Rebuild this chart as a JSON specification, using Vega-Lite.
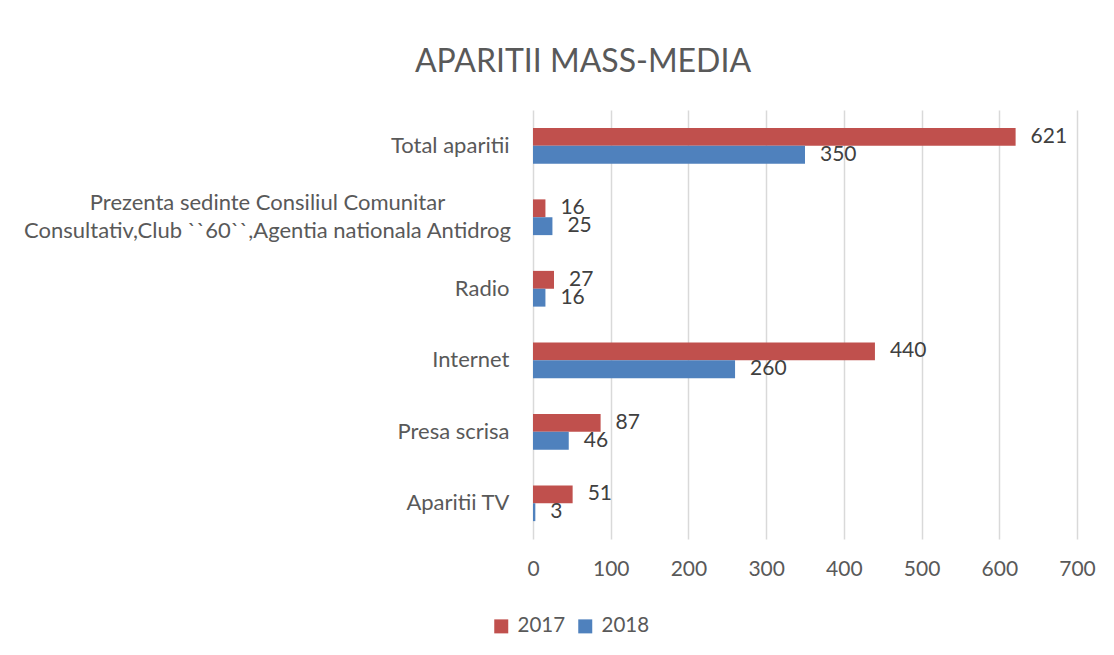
{
  "$schema": "https://vega.github.io/schema/vega-lite/v6.json",
  "autosize": {"type": "none"},
  "width": 544,
  "height": 429,
  "padding": {"left": 533, "top": 110, "right": 37, "bottom": 116},
  "background": "white",
  "config": {
    "font": "Lato",
    "view": {"stroke": null}
  },
  "title": {
    "text": "APARITII MASS-MEDIA",
    "anchor": "middle",
    "frame": "group",
    "dx": -222,
    "offset": 31,
    "fontSize": 32,
    "fontWeight": "normal",
    "color": "#595959"
  },
  "data": {
    "values": [
      {"category": "Total aparitii", "year": "2017", "value": 621},
      {"category": "Total aparitii", "year": "2018", "value": 350},
      {"category": "Prezenta sedinte Consiliul Comunitar Consultativ,Club ``60``,Agentia nationala Antidrog", "year": "2017", "value": 16},
      {"category": "Prezenta sedinte Consiliul Comunitar Consultativ,Club ``60``,Agentia nationala Antidrog", "year": "2018", "value": 25},
      {"category": "Radio", "year": "2017", "value": 27},
      {"category": "Radio", "year": "2018", "value": 16},
      {"category": "Internet", "year": "2017", "value": 440},
      {"category": "Internet", "year": "2018", "value": 260},
      {"category": "Presa scrisa", "year": "2017", "value": 87},
      {"category": "Presa scrisa", "year": "2018", "value": 46},
      {"category": "Aparitii TV", "year": "2017", "value": 51},
      {"category": "Aparitii TV", "year": "2018", "value": 3}
    ]
  },
  "encoding": {
    "y": {
      "field": "category",
      "type": "nominal",
      "sort": null,
      "scale": {"paddingInner": 0.5, "paddingOuter": 0.25},
      "axis": {
        "title": null,
        "domain": false,
        "ticks": false,
        "grid": false,
        "labelFontSize": 22,
        "labelColor": "#595959",
        "labelLimit": 700,
        "labelLineHeight": 28,
        "labelBaseline": "middle",
        "labelExpr": "indexof(datum.label, 'Prezenta') == 0 ? ['Prezenta sedinte Consiliul Comunitar', 'Consultativ,Club ``60``,Agentia nationala Antidrog'] : datum.label",
        "labelAlign": {"condition": {"test": "indexof(datum.value, 'Prezenta') == 0", "value": "center"}, "value": "right"},
        "labelPadding": {"condition": {"test": "indexof(datum.value, 'Prezenta') == 0", "value": 266}, "value": 24},
        "labelOffset": {"condition": {"test": "indexof(datum.value, 'Prezenta') == 0", "value": -14}, "value": 0}
      }
    },
    "yOffset": {"field": "year", "type": "nominal", "sort": ["2017", "2018"]},
    "x": {
      "field": "value",
      "type": "quantitative",
      "scale": {"domain": [0, 700], "nice": false},
      "axis": {
        "title": null,
        "values": [0, 100, 200, 300, 400, 500, 600, 700],
        "domain": false,
        "ticks": false,
        "grid": true,
        "gridColor": "#D9D9D9",
        "gridWidth": 1.5,
        "labelFontSize": 21,
        "labelColor": "#595959",
        "labelPadding": 19,
        "labelFlush": false,
        "labelOverlap": false
      }
    }
  },
  "layer": [
    {
      "mark": {"type": "bar"},
      "encoding": {
        "color": {
          "field": "year",
          "type": "nominal",
          "scale": {"domain": ["2017", "2018"], "range": ["#C0504D", "#4F81BD"]},
          "legend": {
            "title": null,
            "orient": "none",
            "direction": "horizontal",
            "legendX": -42,
            "legendY": 506,
            "padding": 0,
            "symbolType": "square",
            "symbolSize": 196,
            "symbolStrokeWidth": 0,
            "labelFontSize": 20.5,
            "labelColor": "#595959",
            "labelOffset": 6,
            "columnPadding": 9
          }
        }
      }
    },
    {
      "mark": {"type": "text", "align": "left", "baseline": "middle", "dx": 15, "fontSize": 21, "color": "#404040"},
      "encoding": {
        "text": {"field": "value", "type": "quantitative"}
      }
    }
  ]
}
